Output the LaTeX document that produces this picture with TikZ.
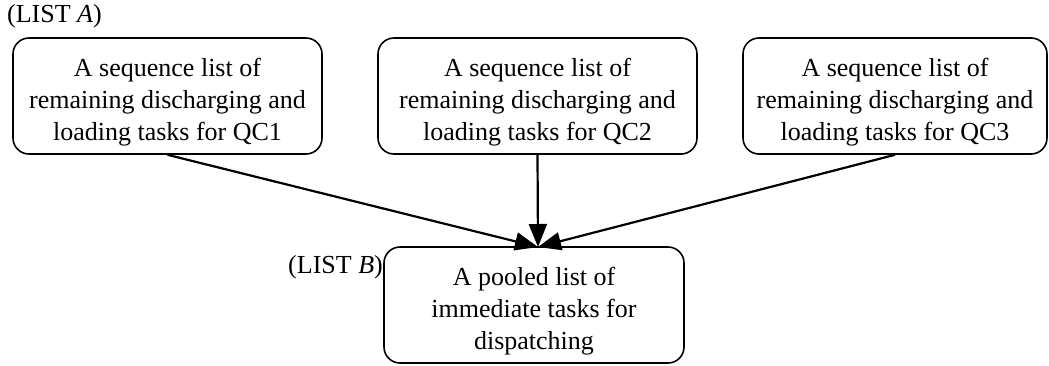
\documentclass[tikz,border=0pt]{standalone}
\usepackage{fontspec}
\setmainfont{Liberation Serif}
\usetikzlibrary{arrows.meta}
\newcommand{\topstrut}{\rule{0pt}{30pt}}
\begin{document}
\begin{tikzpicture}[x=1pt,y=-1pt,
  box/.style={draw, line width=1.6pt, rounded corners=16pt, align=center,
    minimum height=116pt, inner sep=0pt, font=\fontsize{26}{32}\selectfont},
  lbl/.style={inner sep=0pt, font=\fontsize{26}{32}\selectfont},
  conn/.style={line width=2.2pt, -{Triangle[length=23pt,width=18pt]}}]
\useasboundingbox (0,0) rectangle (1049,365);
\node[box, minimum width=309pt] (q1) at (167.5,96) {\topstrut A sequence list of\\remaining discharging and\\loading tasks for QC1};
\node[box, minimum width=319pt] (q2) at (537.5,96) {\topstrut A sequence list of\\remaining discharging and\\loading tasks for QC2};
\node[box, minimum width=304pt] (q3) at (895,96) {\topstrut A sequence list of\\remaining discharging and\\loading tasks for QC3};
\node[box, minimum width=300pt] (b) at (534,305) {\topstrut A pooled list of\\immediate tasks for\\dispatching};
\coordinate (t) at (538,247);
\node[lbl, anchor=base west] (la) at (7,22) {(LIST \textit{A})};
\node[lbl, anchor=base east] (lb) at (383,273) {(LIST \textit{B})};
\draw[conn] (q1.south) -- (t);
\draw[conn] (q2.south) -- (t);
\draw[conn] (q3.south) -- (t);
\end{tikzpicture}
\end{document}
